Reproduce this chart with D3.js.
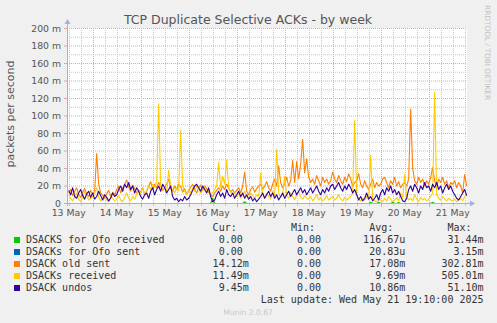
<!DOCTYPE html>
<html><head><meta charset="utf-8">
<script src="https://cdn.jsdelivr.net/npm/d3@7"></script>
<style>
html,body{margin:0;padding:0;background:#f0f0f0;}
svg{display:block;}
</style></head>
<body><svg id="c" width="497" height="323"></svg>
<script>
// ---- data (values in milli packets per second, hourly from 2025-05-13 12:00) ----
const seriesNames = ["DSACKS for Ofo received","DSACKs for Ofo sent","DSACK old sent","DSACKs received","DSACK undos"];
const seriesColors = ["#00cc00","#0066b3","#ff8000","#ffcc00","#330099"];
const yTicks = [0,20,40,60,80,100,120,140,160,180,200];
const legendCur = ["0.00","0.00","14.12m","11.49m","9.45m"];
const legendMin = ["0.00","0.00","0.00","0.00","0.00"];
const legendAvg = ["116.67u","20.83u","17.08m","9.69m","10.86m"];
const legendMax = ["31.44m","3.15m","302.81m","505.01m","51.10m"];

const ofoReceived = [
0,0,0,0,0,0,0,0,0,0,0,0, 0,0,0,0,0,0,0,0,0,0,0,0,
0,0,0,0,0,0,0,0,0,0,0,0, 0,0,0,0,0,0,0,0,0,0,0,0,
0,0,0,0,0,0,0,0,0,0,0,0, 0,0,0,0,0,0,0,0,0,0,0,0,
6,0,0,0,0,0,0,0,0,0,0,0, 0,0,0,0,2,0,0,0,0,0,0,0,
0,0,0,0,0,0,0,0,0,0,0,0, 0,0,0,0,0,0,0,0,0,0,0,0,
0,0,0,0,0,0,0,0,0,0,0,0, 0,0,0,0,0,0,0,0,0,0,0,0,
0,0,0,0,0,0,0,1.5,0,0,0,1.5, 0,0,0,0,0,0,1.5,0,0,1,0,0,
0,0,0,0,0,0,0,0,0,0,0,0, 0,0,1.5,0,0,0,0,0,0,0,0,0,
0,0,0,0,0,0,0,0];
const ofoSent = new Array(200).fill(0);
const oldSent = [
12,16,9,14,18,10,7,13,17,11,8,15,
10,14,57,22,12,9,6,11,15,8,13,10,
16,20,12,18,22,27,19,14,21,17,12,15,
13,18,10,14,20,25,16,22,18,24,20,15,
18,22,28,17,14,20,16,22,19,13,17,11,
14,19,22,16,12,18,21,15,20,17,13,10,
8,12,15,18,14,20,16,22,18,13,16,12,
15,18,12,20,36,14,10,16,19,13,17,20,
22,16,20,25,18,14,22,28,20,43,24,18,
22,30,20,26,49,24,48,28,45,73,35,51,
30,24,28,22,32,26,20,30,24,28,22,26,
36,28,24,32,26,22,30,25,34,28,20,24,
26,34,22,18,26,20,16,22,28,18,24,20,
22,28,30,24,18,26,22,30,20,25,18,22,
24,20,28,108,40,26,22,30,24,28,20,26,
22,30,41,26,20,28,24,30,22,26,18,24,
22,26,18,24,20,12,33,20];
const received = [
10,6,3,8,12,5,2,7,14,9,4,6,
8,12,18,7,3,5,10,4,2,8,6,3,
5,9,4,2,7,12,6,3,8,5,10,14,
12,18,10,15,20,16,22,18,25,114,20,16,
18,14,38,20,16,12,18,15,83,20,14,10,
16,12,18,14,20,17,12,15,19,13,16,10,
12,16,20,47,18,31,22,50,18,14,10,12,
8,12,6,10,14,8,5,12,9,6,10,8,
35,10,6,12,8,5,14,9,62,12,7,10,
31,10,6,12,8,4,10,14,7,5,9,6,
5,8,3,6,10,4,7,3,5,9,4,6,
8,4,6,10,5,3,7,4,6,8,12,95,
10,5,3,6,4,8,5,55,6,3,2,5,
4,2,6,3,8,5,2,4,7,3,12,6,
33,8,4,6,3,10,5,2,7,4,6,3,
5,8,12,127,10,6,4,8,5,3,6,4,
3,5,2,4,6,3,8,11];
const undos = [
15,10,18,8,6,12,16,9,5,11,14,7,
12,5,8,14,9,4,10,7,3,6,12,8,
10,16,20,14,22,18,24,16,20,12,18,14,
8,5,10,12,6,14,18,10,16,20,14,22,
18,12,16,20,8,4,6,2,5,3,8,4,
6,10,15,20,22,18,14,20,16,12,18,8,
2,4,10,14,8,12,6,16,10,8,12,6,
10,14,8,12,6,10,5,8,3,6,2,5,
8,12,6,10,14,8,12,6,10,4,8,12,
6,10,14,8,12,16,10,14,18,12,16,10,
14,18,12,16,20,14,10,16,12,18,14,20,
22,16,20,24,18,14,20,16,22,18,12,16,
10,4,8,3,6,12,5,8,3,6,10,4,
12,16,10,18,14,20,12,16,10,14,8,3,
2,6,16,20,14,22,18,12,20,16,24,18,
20,14,22,18,24,16,20,12,18,22,16,20,
14,10,6,4,8,12,16,9];
const allSeries = [ofoReceived, ofoSent, oldSent, received, undos];

// ---- layout ----
const svg = d3.select("#c");
const L = 67, R = 467, T = 28, B = 203;
const tStart = new Date(Date.UTC(2025,4,13,11,10));
const tEnd = new Date(Date.UTC(2025,4,21,19,10));
const dataStart = Date.UTC(2025,4,13,12,0);
const x = d3.scaleUtc().domain([tStart,tEnd]).range([L,R]);
const y = d3.scaleLinear().domain([0,200]).range([B,T]);

svg.append("rect").attr("x",L).attr("y",T).attr("width",R-L).attr("height",B-T).attr("fill","#fff");

const g = svg.append("g");
// minor grid
const minorY = d3.range(10,201,20);
g.selectAll(".my").data(minorY).enter().append("line")
 .attr("x1",L).attr("x2",R).attr("y1",d=>y(d)+0.5).attr("y2",d=>y(d)+0.5)
 .attr("stroke","#c8c8c8").attr("stroke-dasharray","1,1");
const minorX = d3.utcHour.every(6).range(tStart,tEnd).filter(d=>d.getUTCHours()!==0);
g.selectAll(".mx").data(minorX).enter().append("line")
 .attr("x1",d=>Math.round(x(d))+0.5).attr("x2",d=>Math.round(x(d))+0.5).attr("y1",T).attr("y2",B)
 .attr("stroke","#c8c8c8").attr("stroke-dasharray","1,1");
// major grid
g.selectAll(".My").data(yTicks.filter(d=>d>0)).enter().append("line")
 .attr("x1",L).attr("x2",R).attr("y1",d=>y(d)+0.5).attr("y2",d=>y(d)+0.5)
 .attr("stroke","#e8a0a0").attr("stroke-dasharray","1,1");
const days = d3.utcDay.range(tStart,tEnd);
g.selectAll(".Mx").data(days).enter().append("line")
 .attr("x1",d=>Math.round(x(d))+0.5).attr("x2",d=>Math.round(x(d))+0.5).attr("y1",T).attr("y2",B)
 .attr("stroke","#e8a0a0").attr("stroke-dasharray","1,1");
// axis ticks
g.selectAll(".tkx").data(minorX).enter().append("line")
 .attr("x1",d=>Math.round(x(d))+0.5).attr("x2",d=>Math.round(x(d))+0.5).attr("y1",B+1).attr("y2",B+3).attr("stroke","#c8c8c8");
g.selectAll(".tkX").data(days).enter().append("line")
 .attr("x1",d=>Math.round(x(d))+0.5).attr("x2",d=>Math.round(x(d))+0.5).attr("y1",B+1).attr("y2",B+4).attr("stroke","#e8a0a0");
g.selectAll(".tky").data(yTicks.filter(d=>d>0)).enter().append("line")
 .attr("x1",L-3).attr("x2",L).attr("y1",d=>y(d)+0.5).attr("y2",d=>y(d)+0.5).attr("stroke","#e8a0a0");

// series lines
const line = d3.line().x((d,i)=>x(new Date(dataStart+i*3600000))).y(d=>y(d)+0.5);
allSeries.forEach((s,k)=>{
  svg.append("path").datum(s).attr("d",line).attr("fill","none")
   .attr("stroke",seriesColors[k]).attr("stroke-width",1.1).attr("stroke-linejoin","round");
});

// axes
const axc = "#a4b0e0";
svg.append("line").attr("x1",L-3).attr("x2",R+4).attr("y1",B+0.5).attr("y2",B+0.5).attr("stroke",axc);
svg.append("line").attr("x1",L+0.5).attr("x2",L+0.5).attr("y1",B+3).attr("y2",T-5).attr("stroke",axc);
svg.append("path").attr("d",`M${R+3},${B-2.5} L${R+8},${B+0.5} L${R+3},${B+3.5} Z`).attr("fill",axc);
svg.append("path").attr("d",`M${L-2.5},${T-4} L${L+0.5},${T-9} L${L+3.5},${T-4} Z`).attr("fill",axc);

// tick labels
const lf = "DejaVu Sans, sans-serif";
svg.selectAll(".yl").data(yTicks).enter().append("text")
 .attr("x",61).attr("y",d=>y(d)+3.6).attr("text-anchor","end")
 .attr("font-family",lf).attr("font-size","9.3px").attr("fill","#555")
 .text(d=>d===0?"0":d+" m");
const labelDays = days.concat([]);
labelDays.unshift(d3.utcDay.offset(days[0],-1));
svg.selectAll(".xl").data(labelDays).enter().append("text")
 .attr("x",d=>x(d3.utcHour.offset(d,12))).attr("y",216).attr("text-anchor","middle")
 .attr("font-family",lf).attr("font-size","9.3px").attr("fill","#555")
 .text(d=>d3.utcFormat("%d %b")(d));

// title & labels
svg.append("text").attr("x",248).attr("y",24).attr("text-anchor","middle")
 .attr("font-family",lf).attr("font-size","12.5px").attr("fill","#555")
 .text("TCP Duplicate Selective ACKs - by week");
svg.append("text").attr("transform","translate(14,114) rotate(-90)").attr("text-anchor","middle")
 .attr("font-family",lf).attr("font-size","11px").attr("fill","#555")
 .text("packets per second");
svg.append("text").attr("transform","translate(485,5) rotate(90)").attr("text-anchor","start")
 .attr("font-family",lf).attr("font-size","7.4px").attr("fill","#c0c0c0")
 .text("RRDTOOL / TOBI OETIKER");

// legend
const mf = "DejaVu Sans Mono, monospace";
const cw = 6.02;
const lx = 26;
const hdr = [["Cur:",31],["Min:",44],["Avg:",57],["Max:",70]];
hdr.forEach(h=>svg.append("text").attr("x",lx+h[1]*cw).attr("y",231).attr("font-family",mf)
  .attr("font-size","10px").attr("fill","#333").text(h[0]));
const cols = [[legendCur,36],[legendMin,49],[legendAvg,62],[legendMax,75]];
seriesNames.forEach((n,k)=>{
  const by = 243 + k*12;
  svg.append("rect").attr("x",14).attr("y",by-6).attr("width",6).attr("height",6).attr("fill",seriesColors[k]);
  svg.append("text").attr("x",lx).attr("y",by).attr("font-family",mf).attr("font-size","10px").attr("fill","#333").text(n);
  cols.forEach(c=>{
    const v = c[0][k];
    const m = v.match(/^([0-9.]+)([a-zA-Z]?)$/);
    const ex = lx + c[1]*cw;
    svg.append("text").attr("x",ex).attr("y",by).attr("text-anchor","end").attr("font-family",mf)
      .attr("font-size","10px").attr("fill","#333").text(m[1]);
    if(m[2]) svg.append("text").attr("x",ex).attr("y",by).attr("font-family",mf)
      .attr("font-size","10px").attr("fill","#333").text(m[2]);
  });
});
svg.append("text").attr("x",lx+76*cw).attr("y",303).attr("text-anchor","end").attr("font-family",mf)
  .attr("font-size","10px").attr("fill","#333").text("Last update: Wed May 21 19:10:00 2025");
svg.append("text").attr("x",248).attr("y",315).attr("text-anchor","middle").attr("font-family",lf)
  .attr("font-size","7.6px").attr("fill","#c8c8c8").text("Munin 2.0.67");
</script></body></html>
